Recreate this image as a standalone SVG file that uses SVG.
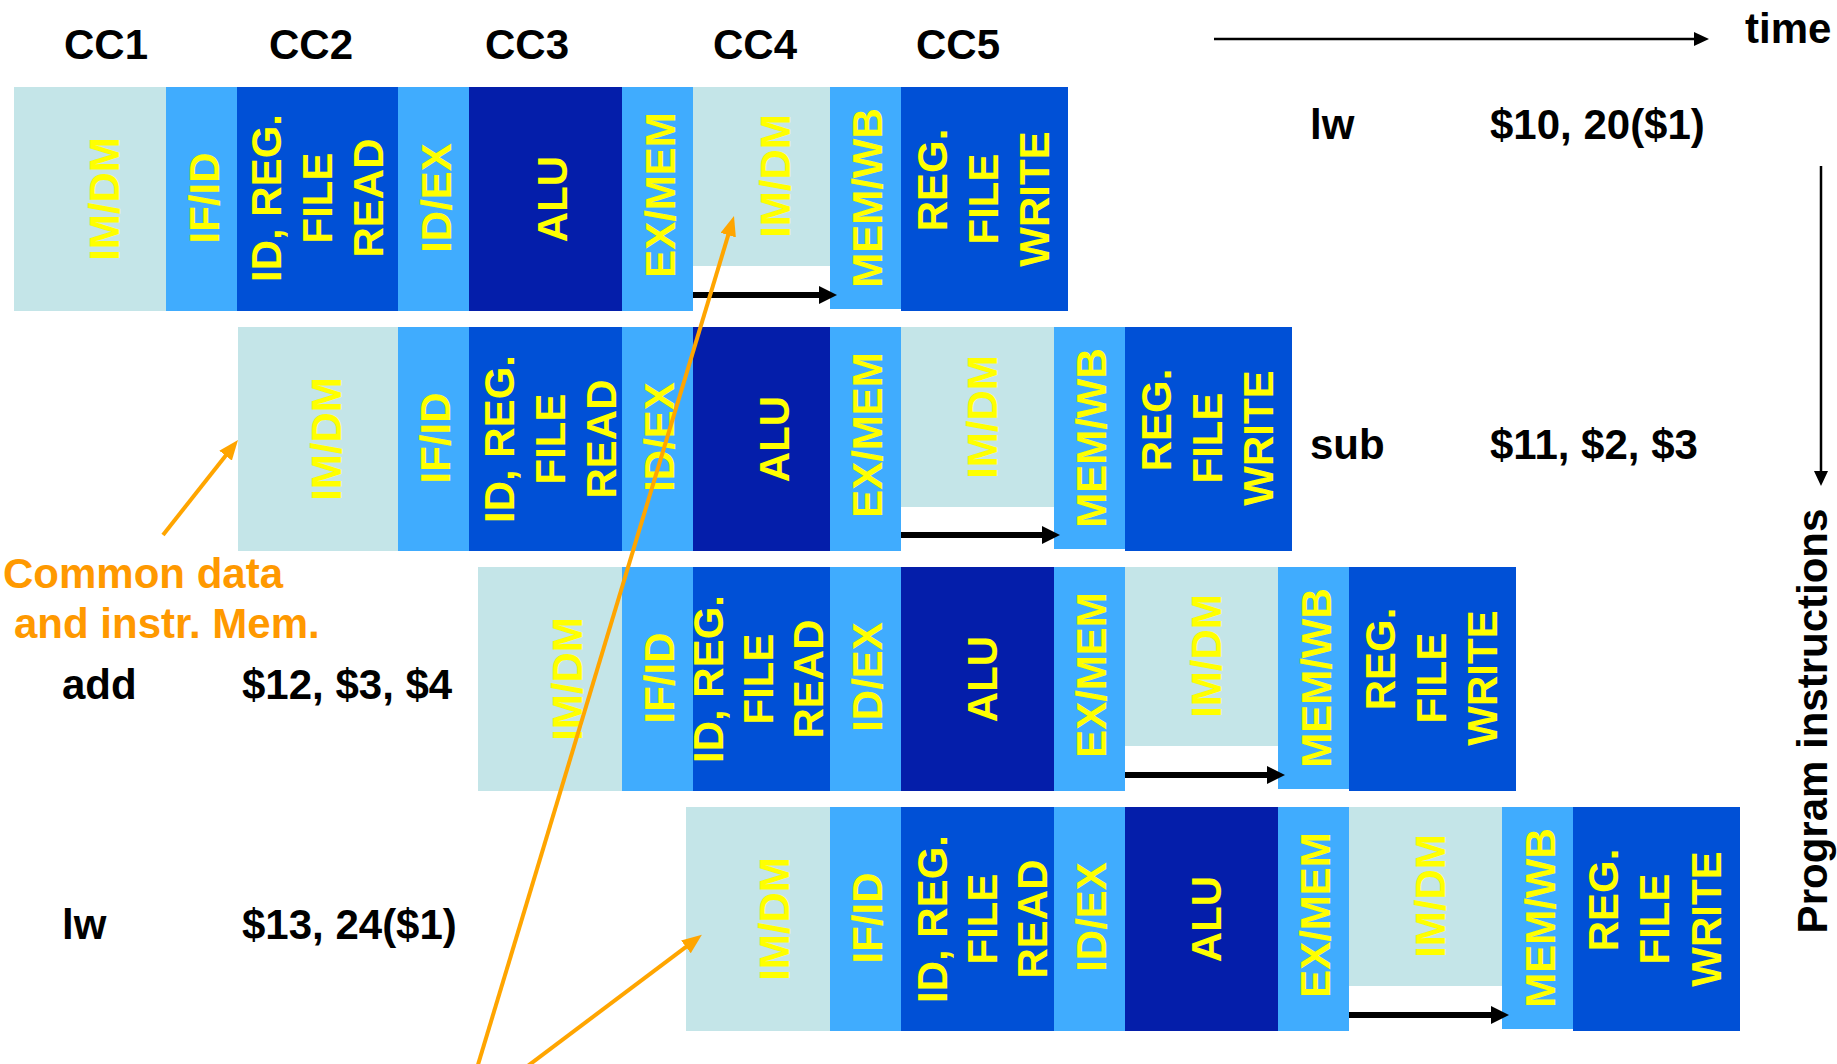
<svg xmlns="http://www.w3.org/2000/svg" width="1837" height="1064" viewBox="0 0 1837 1064">
<style>
text{font-family:"Liberation Sans",Arial,sans-serif;font-weight:bold;font-size:42px}
.k{fill:#000}
.o{fill:#FF9900}
.y{fill:#FFFF00;text-anchor:middle}
.m{fill:#C4E5E8}
.r{fill:#40ACFE}
.d{fill:#0050D6}
.a{fill:#041EAA}
.bk{stroke:#000;stroke-width:6;fill:none}
.or{stroke:#FFA500;stroke-width:4;fill:none}
.th{stroke:#000;stroke-width:2.5;fill:none}
</style>
<defs>
<marker id="ab" markerUnits="userSpaceOnUse" markerWidth="18" markerHeight="18" refX="1" refY="9" orient="auto"><path d="M0,0 L18,9 L0,18 z" fill="#000"/></marker>
<marker id="ao" markerUnits="userSpaceOnUse" markerWidth="20" markerHeight="16" refX="1" refY="8" orient="auto"><path d="M0,0 L20,8 L0,16 z" fill="#FFA500"/></marker>
<marker id="at" markerUnits="userSpaceOnUse" markerWidth="15" markerHeight="14" refX="1" refY="7" orient="auto"><path d="M0,0 L15,7 L0,14 z" fill="#000"/></marker>
</defs>
<rect width="1837" height="1064" fill="#fff"/>

<g id="labels">
<text class="k" x="106" y="59" text-anchor="middle">CC1</text>
<text class="k" x="311" y="59" text-anchor="middle">CC2</text>
<text class="k" x="527" y="59" text-anchor="middle">CC3</text>
<text class="k" x="755" y="59" text-anchor="middle">CC4</text>
<text class="k" x="958" y="59" text-anchor="middle">CC5</text>
<text class="k" x="1745" y="43">time</text>
<text class="k" x="1310" y="139">lw</text>
<text class="k" x="1490" y="139">$10, 20($1)</text>
<text class="k" x="1310" y="459">sub</text>
<text class="k" x="1490" y="459">$11, $2, $3</text>
<text class="k" x="62" y="699">add</text>
<text class="k" x="242" y="699">$12, $3, $4</text>
<text class="k" x="62" y="939">lw</text>
<text class="k" x="242" y="939">$13, 24($1)</text>
<text class="o" x="3" y="588">Common data</text>
<text class="o" x="14" y="638">and instr. Mem.</text>
<text class="k" transform="translate(1827,721) rotate(-90)" text-anchor="middle">Program instructions</text>
</g>

<!-- Row 1 -->
<g id="r1-imdm"><rect class="m" x="14" y="87" width="152" height="224"/><text class="y" transform="translate(119,199) rotate(-90)">IM/DM</text></g>
<g id="r1-ifid"><rect class="r" x="166" y="87" width="71" height="224"/><text class="y" transform="translate(219,198) rotate(-90)">IF/ID</text></g>
<g id="r1-idreg"><rect class="d" x="237" y="87" width="161" height="224"/><text class="y" transform="translate(281,198) rotate(-90)"><tspan x="0">ID, REG.</tspan><tspan x="0" dy="51">FILE</tspan><tspan x="0" dy="51">READ</tspan></text></g>
<g id="r1-idex"><rect class="r" x="398" y="87" width="71" height="224"/><text class="y" transform="translate(451,198) rotate(-90)">ID/EX</text></g>
<g id="r1-alu"><rect class="a" x="469" y="87" width="153" height="224"/><text class="y" transform="translate(567,199) rotate(-90)">ALU</text></g>
<g id="r1-exmem"><rect class="r" x="622" y="87" width="71" height="224"/><text class="y" transform="translate(675,195) rotate(-90)">EX/MEM</text></g>
<g id="r1-dm"><rect class="m" x="693" y="87" width="137" height="179"/><text class="y" transform="translate(790,176) rotate(-90)">IM/DM</text></g>
<g id="r1-memwb"><rect class="r" x="830" y="87" width="71" height="222"/><text class="y" transform="translate(882,198) rotate(-90)">MEM/WB</text></g>
<g id="r1-regw"><rect class="d" x="901" y="87" width="167" height="224"/><text class="y" transform="translate(947,199) rotate(-90)"><tspan x="19">REG.</tspan><tspan x="0" dy="51">FILE</tspan><tspan x="0" dy="51">WRITE</tspan></text></g>

<!-- Row 2 -->
<g id="r2-imdm"><rect class="m" x="238" y="327" width="160" height="224"/><text class="y" transform="translate(341,439) rotate(-90)">IM/DM</text></g>
<g id="r2-ifid"><rect class="r" x="398" y="327" width="71" height="224"/><text class="y" transform="translate(450,438) rotate(-90)">IF/ID</text></g>
<g id="r2-idreg"><rect class="d" x="469" y="327" width="153" height="224"/><text class="y" transform="translate(514,439) rotate(-90)"><tspan x="0">ID, REG.</tspan><tspan x="0" dy="51">FILE</tspan><tspan x="0" dy="51">READ</tspan></text></g>
<g id="r2-idex"><rect class="r" x="622" y="327" width="71" height="224"/><text class="y" transform="translate(674,437) rotate(-90)">ID/EX</text></g>
<g id="r2-alu"><rect class="a" x="693" y="327" width="137" height="224"/><text class="y" transform="translate(789,439) rotate(-90)">ALU</text></g>
<g id="r2-exmem"><rect class="r" x="830" y="327" width="71" height="224"/><text class="y" transform="translate(882,435) rotate(-90)">EX/MEM</text></g>
<g id="r2-dm"><rect class="m" x="901" y="327" width="153" height="180"/><text class="y" transform="translate(997,417) rotate(-90)">IM/DM</text></g>
<g id="r2-memwb"><rect class="r" x="1054" y="327" width="71" height="222"/><text class="y" transform="translate(1106,438) rotate(-90)">MEM/WB</text></g>
<g id="r2-regw"><rect class="d" x="1125" y="327" width="167" height="224"/><text class="y" transform="translate(1171,438) rotate(-90)"><tspan x="18">REG.</tspan><tspan x="0" dy="51">FILE</tspan><tspan x="0" dy="51">WRITE</tspan></text></g>

<!-- Row 3 -->
<g id="r3-imdm"><rect class="m" x="478" y="567" width="144" height="224"/><text class="y" transform="translate(582,679) rotate(-90)">IM/DM</text></g>
<g id="r3-ifid"><rect class="r" x="622" y="567" width="71" height="224"/><text class="y" transform="translate(674,678) rotate(-90)">IF/ID</text></g>
<g id="r3-idreg"><rect class="d" x="693" y="567" width="137" height="224"/><text class="y" transform="translate(723,679) rotate(-90)"><tspan x="0">ID, REG.</tspan><tspan x="0" dy="50">FILE</tspan><tspan x="0" dy="50">READ</tspan></text></g>
<g id="r3-idex"><rect class="r" x="830" y="567" width="71" height="224"/><text class="y" transform="translate(882,677) rotate(-90)">ID/EX</text></g>
<g id="r3-alu"><rect class="a" x="901" y="567" width="153" height="224"/><text class="y" transform="translate(997,679) rotate(-90)">ALU</text></g>
<g id="r3-exmem"><rect class="r" x="1054" y="567" width="71" height="224"/><text class="y" transform="translate(1106,675) rotate(-90)">EX/MEM</text></g>
<g id="r3-dm"><rect class="m" x="1125" y="567" width="153" height="179"/><text class="y" transform="translate(1221,656) rotate(-90)">IM/DM</text></g>
<g id="r3-memwb"><rect class="r" x="1278" y="567" width="71" height="222"/><text class="y" transform="translate(1331,678) rotate(-90)">MEM/WB</text></g>
<g id="r3-regw"><rect class="d" x="1349" y="567" width="167" height="224"/><text class="y" transform="translate(1395,678) rotate(-90)"><tspan x="19">REG.</tspan><tspan x="0" dy="51">FILE</tspan><tspan x="0" dy="51">WRITE</tspan></text></g>

<!-- Row 4 -->
<g id="r4-imdm"><rect class="m" x="686" y="807" width="144" height="224"/><text class="y" transform="translate(789,919) rotate(-90)">IM/DM</text></g>
<g id="r4-ifid"><rect class="r" x="830" y="807" width="71" height="224"/><text class="y" transform="translate(882,918) rotate(-90)">IF/ID</text></g>
<g id="r4-idreg"><rect class="d" x="901" y="807" width="153" height="224"/><text class="y" transform="translate(947,919) rotate(-90)"><tspan x="0">ID, REG.</tspan><tspan x="0" dy="50">FILE</tspan><tspan x="0" dy="50">READ</tspan></text></g>
<g id="r4-idex"><rect class="r" x="1054" y="807" width="71" height="224"/><text class="y" transform="translate(1106,917) rotate(-90)">ID/EX</text></g>
<g id="r4-alu"><rect class="a" x="1125" y="807" width="153" height="224"/><text class="y" transform="translate(1221,919) rotate(-90)">ALU</text></g>
<g id="r4-exmem"><rect class="r" x="1278" y="807" width="71" height="224"/><text class="y" transform="translate(1330,915) rotate(-90)">EX/MEM</text></g>
<g id="r4-dm"><rect class="m" x="1349" y="807" width="153" height="179"/><text class="y" transform="translate(1445,896) rotate(-90)">IM/DM</text></g>
<g id="r4-memwb"><rect class="r" x="1502" y="807" width="71" height="222"/><text class="y" transform="translate(1555,918) rotate(-90)">MEM/WB</text></g>
<g id="r4-regw"><rect class="d" x="1573" y="807" width="167" height="224"/><text class="y" transform="translate(1618,919) rotate(-90)"><tspan x="19">REG.</tspan><tspan x="0" dy="51">FILE</tspan><tspan x="0" dy="52">WRITE</tspan></text></g>

<g id="connectors">
<line class="bk" x1="693" y1="295" x2="820" y2="295" marker-end="url(#ab)"/>
<line class="bk" x1="901" y1="535" x2="1043" y2="535" marker-end="url(#ab)"/>
<line class="bk" x1="1125" y1="775" x2="1268" y2="775" marker-end="url(#ab)"/>
<line class="bk" x1="1349" y1="1015" x2="1492" y2="1015" marker-end="url(#ab)"/>
<line class="th" x1="1214" y1="39" x2="1695" y2="39" marker-end="url(#at)"/>
<line class="th" x1="1821" y1="166" x2="1821" y2="472" marker-end="url(#at)"/>
<line class="or" x1="163" y1="535" x2="226.2" y2="454.9" marker-end="url(#ao)"/>
<line class="or" x1="477" y1="1068" x2="728.5" y2="234.2" marker-end="url(#ao)"/>
<line class="or" x1="525" y1="1068" x2="686.7" y2="946.3" marker-end="url(#ao)"/>
</g>
</svg>
